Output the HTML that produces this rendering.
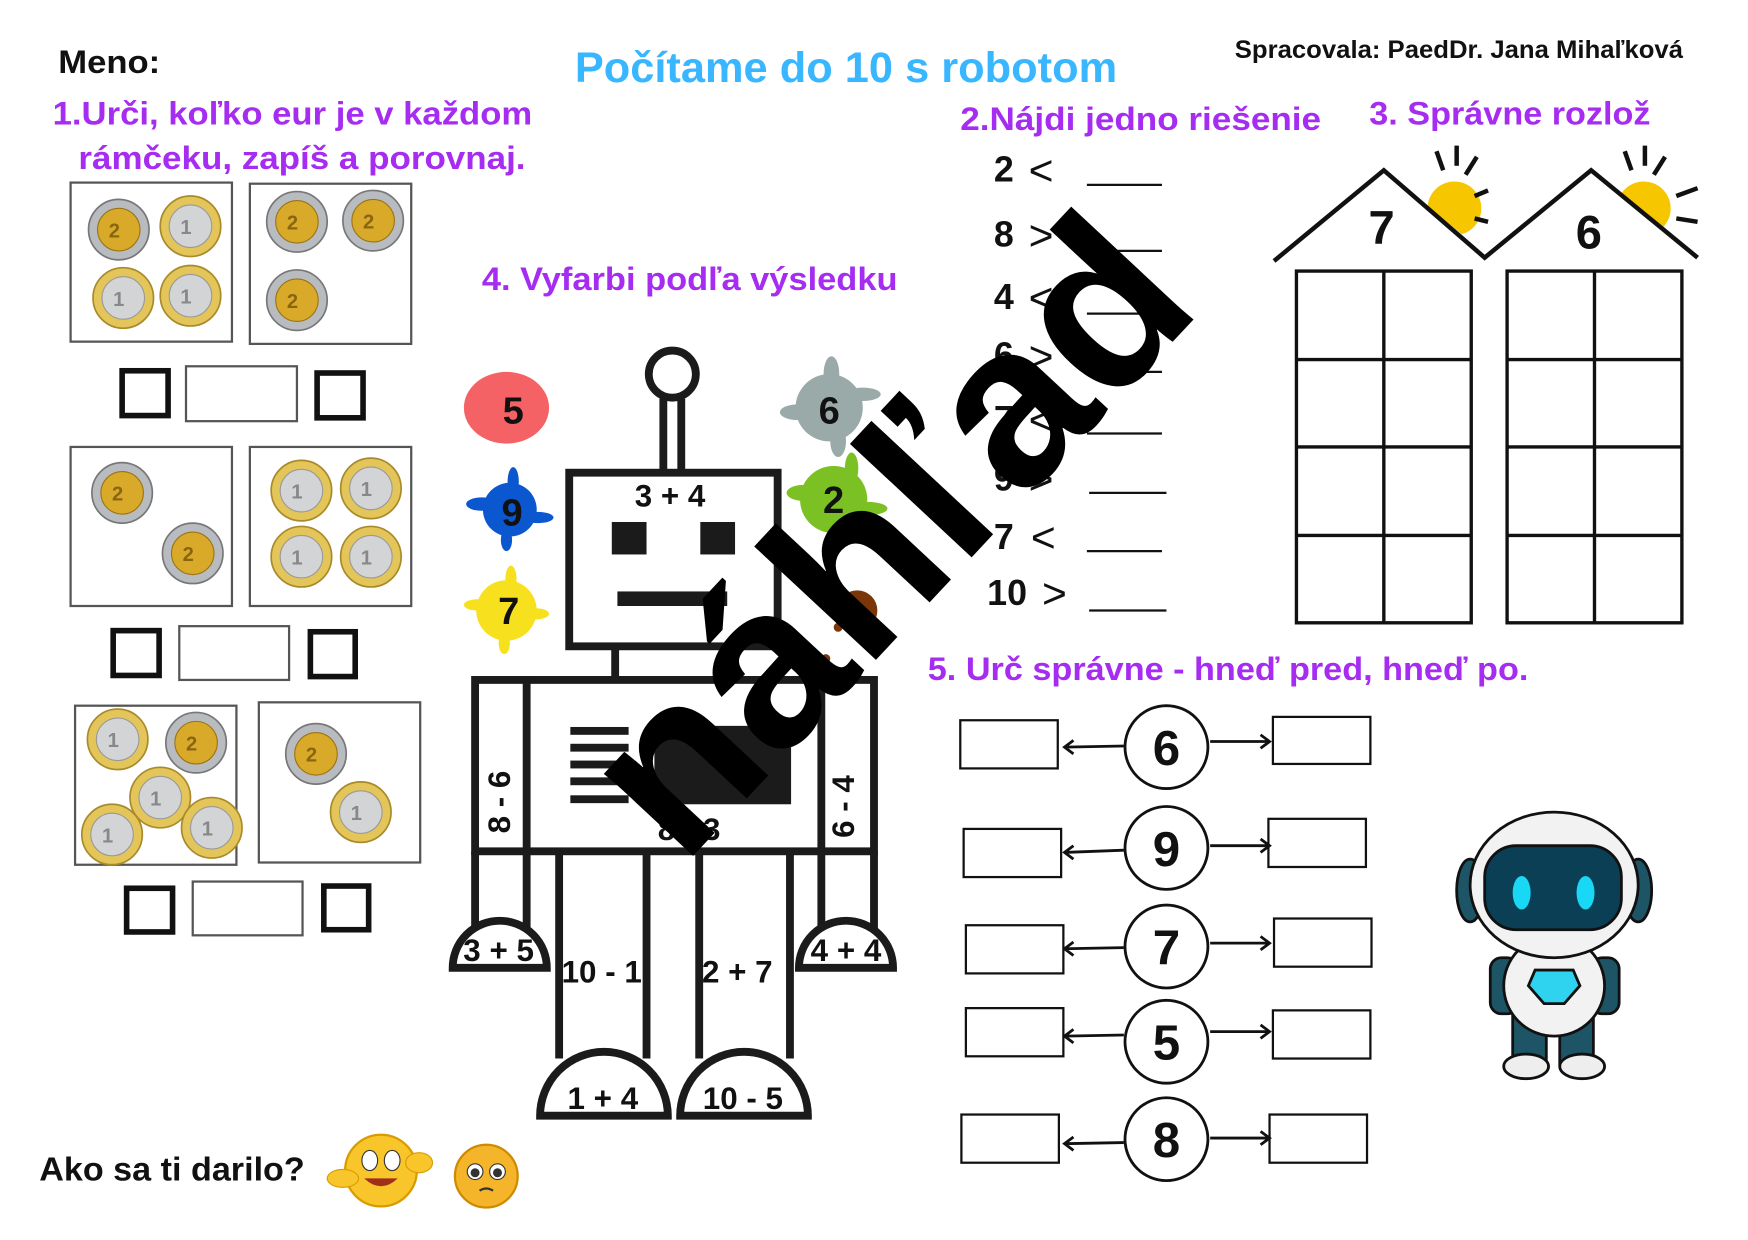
<!DOCTYPE html>
<html><head><meta charset="utf-8"><style>
html,body{margin:0;padding:0;background:#fff;}
svg{display:block;}
text{font-family:"Liberation Sans","DejaVu Sans",sans-serif;font-weight:bold;}
.thin{font-weight:normal;}
</style></head><body>
<svg width="1748" height="1240" viewBox="0 0 1560 1107" preserveAspectRatio="none" xmlns="http://www.w3.org/2000/svg">
<defs>
<g id="e2"><circle r="27" fill="#b8bcc0" stroke="#777" stroke-width="1.5"/><circle r="19" fill="#d9a92a" stroke="#9a7412" stroke-width="1"/><text x="-9" y="7" font-size="18" fill="#8a6510">2</text></g>
<g id="e1"><circle r="27" fill="#e3c55a" stroke="#a88a2a" stroke-width="1.5"/><circle r="19" fill="#d2d4d6" stroke="#999" stroke-width="1"/><text x="-9" y="7" font-size="18" fill="#888">1</text></g>
</defs>
<rect width="1560" height="1107" fill="#fff"/>

<!-- headers -->
<text x="52" y="65" font-size="29" fill="#111" textLength="91" lengthAdjust="spacingAndGlyphs">Meno:</text>
<text x="513" y="73" font-size="38" fill="#38b6ff" textLength="484" lengthAdjust="spacingAndGlyphs">Počítame do 10 s robotom</text>
<text x="1102" y="52" font-size="22" fill="#111" textLength="400" lengthAdjust="spacingAndGlyphs">Spracovala: PaedDr. Jana Mihaľková</text>
<g fill="#a52cf0" font-size="29">
<text x="47" y="111" textLength="428" lengthAdjust="spacingAndGlyphs">1.Urči, koľko eur je v každom</text>
<text x="70" y="151" textLength="399" lengthAdjust="spacingAndGlyphs">rámčeku, zapíš a porovnaj.</text>
<text x="857" y="116" textLength="322" lengthAdjust="spacingAndGlyphs">2.Nájdi jedno riešenie</text>
<text x="1222" y="111" textLength="251" lengthAdjust="spacingAndGlyphs">3. Správne rozlož</text>
<text x="430" y="259" textLength="371" lengthAdjust="spacingAndGlyphs">4. Vyfarbi podľa výsledku</text>
<text x="828" y="607" textLength="536" lengthAdjust="spacingAndGlyphs">5. Urč správne - hneď pred, hneď po.</text>
</g>
<text x="35" y="1054" font-size="30" fill="#111" textLength="237" lengthAdjust="spacingAndGlyphs">Ako sa ti darilo?</text>

<!-- coin boxes -->
<g fill="none" stroke="#555" stroke-width="2">
<rect x="63" y="163" width="144" height="142"/><rect x="223" y="164" width="144" height="143"/>
<rect x="63" y="399" width="144" height="142"/><rect x="223" y="399" width="144" height="142"/>
<rect x="67" y="630" width="144" height="142"/><rect x="231" y="627" width="144" height="143"/>
<rect x="166" y="327" width="99" height="49"/><rect x="160" y="559" width="98" height="48"/><rect x="172" y="787" width="98" height="48"/>
</g>
<g fill="none" stroke="#111" stroke-width="5">
<rect x="109" y="331" width="41" height="40"/><rect x="283" y="333" width="41" height="40"/>
<rect x="101" y="563" width="41" height="40"/><rect x="277" y="564" width="40" height="40"/>
<rect x="113" y="793" width="41" height="39"/><rect x="289" y="791" width="40" height="39"/>
</g>
<use href="#e2" x="106" y="205"/><use href="#e1" x="170" y="202"/><use href="#e1" x="110" y="266"/><use href="#e1" x="170" y="264"/>
<use href="#e2" x="265" y="198"/><use href="#e2" x="333" y="197"/><use href="#e2" x="265" y="268"/>
<use href="#e2" x="109" y="440"/><use href="#e2" x="172" y="494"/>
<use href="#e1" x="269" y="438"/><use href="#e1" x="331" y="436"/><use href="#e1" x="269" y="497"/><use href="#e1" x="331" y="497"/>
<use href="#e1" x="105" y="660"/><use href="#e2" x="175" y="663"/><use href="#e1" x="143" y="712"/><use href="#e1" x="100" y="745"/><use href="#e1" x="189" y="739"/>
<use href="#e2" x="282" y="673"/><use href="#e1" x="322" y="725"/>

<!-- section 2 -->
<g font-size="32" fill="#111">
<text x="887" y="162">2</text><text x="887" y="220">8</text><text x="887" y="276">4</text><text x="887" y="328">6</text>
<text x="887" y="385">7</text><text x="887" y="438">9</text><text x="887" y="490">7</text><text x="881" y="540">10</text>
</g>
<g font-size="38" fill="#111" class="thin">
<text x="918" y="165" class="thin">&lt;</text><text x="918" y="223" class="thin">&gt;</text><text x="918" y="279" class="thin">&lt;</text><text x="918" y="331" class="thin">&gt;</text>
<text x="918" y="388" class="thin">&lt;</text><text x="918" y="441" class="thin">&gt;</text><text x="920" y="493" class="thin">&lt;</text><text x="930" y="543" class="thin">&gt;</text>
</g>
<g stroke="#111" stroke-width="2">
<line x1="970" y1="165" x2="1037" y2="165"/><line x1="970" y1="224" x2="1037" y2="224"/><line x1="970" y1="280" x2="1037" y2="280"/><line x1="970" y1="332" x2="1037" y2="332"/>
<line x1="970" y1="387" x2="1037" y2="387"/><line x1="972" y1="440" x2="1041" y2="440"/><line x1="970" y1="492" x2="1037" y2="492"/><line x1="972" y1="545" x2="1041" y2="545"/>
</g>

<!-- houses -->
<g>
<circle cx="1298" cy="186" r="24" fill="#f6c700"/>
<circle cx="1467" cy="186" r="24" fill="#f6c700"/>
<g stroke="#111" stroke-width="4">
<line x1="1282" y1="135" x2="1288" y2="152"/><line x1="1300" y1="130" x2="1300" y2="148"/><line x1="1318" y1="140" x2="1308" y2="156"/><line x1="1328" y1="170" x2="1316" y2="175"/><line x1="1328" y1="198" x2="1316" y2="195"/>
<line x1="1450" y1="135" x2="1456" y2="152"/><line x1="1468" y1="130" x2="1468" y2="148"/><line x1="1486" y1="140" x2="1476" y2="156"/><line x1="1515" y1="168" x2="1496" y2="175"/><line x1="1515" y1="198" x2="1496" y2="195"/>
</g>
<polygon points="1235,152 1330,230 1330,260 1140,260 1140,233" fill="#fff"/>
<polygon points="1420,152 1515,230 1515,260 1325,260 1325,230" fill="#fff"/>
<polyline points="1137,233 1235,152 1325,230 1420,152 1515,230" fill="none" stroke="#111" stroke-width="4"/>
<text x="1233" y="218" font-size="42" fill="#111" text-anchor="middle">7</text>
<text x="1418" y="222" font-size="42" fill="#111" text-anchor="middle">6</text>
<g fill="none" stroke="#111" stroke-width="3">
<rect x="1157" y="242" width="156" height="314"/><line x1="1235" y1="242" x2="1235" y2="556"/>
<line x1="1157" y1="321" x2="1313" y2="321"/><line x1="1157" y1="399" x2="1313" y2="399"/><line x1="1157" y1="478" x2="1313" y2="478"/>
<rect x="1345" y="242" width="156" height="314"/><line x1="1423" y1="242" x2="1423" y2="556"/>
<line x1="1345" y1="321" x2="1501" y2="321"/><line x1="1345" y1="399" x2="1501" y2="399"/><line x1="1345" y1="478" x2="1501" y2="478"/>
</g>
</g>

<!-- splats -->
<ellipse cx="452" cy="364" rx="38" ry="32" fill="#f2474a" opacity="0.85"/>
<g fill="#9aaaa9"><circle cx="740" cy="364" r="30"/><ellipse cx="742" cy="334" rx="7" ry="16"/><ellipse cx="712" cy="368" rx="16" ry="7"/><ellipse cx="770" cy="352" rx="16" ry="6"/><ellipse cx="748" cy="394" rx="7" ry="14"/></g>
<g fill="#0b57d0"><circle cx="455" cy="455" r="24"/><ellipse cx="430" cy="450" rx="14" ry="6"/><ellipse cx="480" cy="462" rx="14" ry="5"/><ellipse cx="458" cy="430" rx="5" ry="13"/><ellipse cx="452" cy="482" rx="5" ry="10"/></g>
<g fill="#7bc124"><circle cx="744" cy="446" r="30"/><ellipse cx="716" cy="440" rx="14" ry="7"/><ellipse cx="774" cy="454" rx="18" ry="6"/><ellipse cx="760" cy="418" rx="6" ry="14"/></g>
<g fill="#f7e01e"><circle cx="452" cy="545" r="27"/><ellipse cx="426" cy="540" rx="12" ry="5"/><ellipse cx="478" cy="548" rx="12" ry="5"/><ellipse cx="456" cy="517" rx="5" ry="12"/><ellipse cx="450" cy="574" rx="5" ry="10"/></g>
<g fill="#7a3608"><circle cx="765" cy="545" r="18"/><circle cx="748" cy="560" r="4"/><circle cx="785" cy="560" r="4"/><circle cx="737" cy="588" r="4"/></g>
<g font-size="34" fill="#111" text-anchor="middle">
<text x="458" y="378">5</text><text x="740" y="378">6</text><text x="457" y="469">9</text><text x="744" y="458">2</text><text x="454" y="557">7</text>
</g>

<!-- robot -->
<g fill="none" stroke="#1b1b1b" stroke-width="7">
<circle cx="600" cy="334" r="21"/>
<line x1="592" y1="356" x2="592" y2="420"/><line x1="608" y1="356" x2="608" y2="420"/>
<rect x="508" y="422" width="186" height="155"/>
<line x1="549" y1="578" x2="549" y2="607"/><line x1="651" y1="578" x2="651" y2="607"/>
<rect x="424" y="607" width="356" height="153"/>
<line x1="470" y1="607" x2="470" y2="760"/><line x1="733" y1="607" x2="733" y2="760"/>
<polyline points="424,760 424,830"/><polyline points="470,760 470,830"/>
<polyline points="733,760 733,830"/><polyline points="780,760 780,830"/>
<polyline points="499,760 499,945"/><polyline points="577,760 577,945"/>
<polyline points="624,760 624,945"/><polyline points="705,760 705,945"/>
<path d="M404 864 A42 42 0 0 1 488 864 Z"/>
<path d="M713 864 A42 42 0 0 1 797 864 Z"/>
<path d="M482 996 A57 57 0 0 1 596 996 Z"/>
<path d="M607 996 A57 57 0 0 1 721 996 Z"/>
</g>
<g fill="#1b1b1b">
<rect x="546" y="466" width="31" height="29"/><rect x="625" y="466" width="31" height="29"/>
<rect x="551" y="528" width="98" height="13"/>
<rect x="509" y="649" width="52" height="7"/><rect x="509" y="664" width="52" height="7"/><rect x="509" y="679" width="52" height="7"/><rect x="509" y="694" width="52" height="7"/><rect x="509" y="710" width="52" height="7"/>
<rect x="584" y="648" width="122" height="70"/>
</g>
<g font-size="28" fill="#111" text-anchor="middle">
<text x="598" y="452">3 + 4</text>
<text x="615" y="750">8 - 3</text>
<text x="445" y="858">3 + 5</text><text x="755" y="858">4 + 4</text>
<text x="537" y="877">10 - 1</text><text x="658" y="877">2 + 7</text>
<text x="538" y="990">1 + 4</text><text x="663" y="990">10 - 5</text>
<text transform="translate(455,716) rotate(-90)">8 - 6</text>
<text transform="translate(762,720) rotate(-90)">6 - 4</text>
</g>

<!-- section 5 -->
<g fill="none" stroke="#111" stroke-width="2">
<rect x="857" y="643" width="87" height="43"/><rect x="1136" y="640" width="87" height="42"/>
<rect x="860" y="740" width="87" height="43"/><rect x="1132" y="731" width="87" height="43"/>
<rect x="862" y="826" width="87" height="43"/><rect x="1137" y="820" width="87" height="43"/>
<rect x="862" y="900" width="87" height="43"/><rect x="1136" y="902" width="87" height="43"/>
<rect x="858" y="995" width="87" height="43"/><rect x="1133" y="995" width="87" height="43"/>
</g>
<g fill="#fff" stroke="#111" stroke-width="2.5">
<circle cx="1041" cy="667" r="37"/><circle cx="1041" cy="757" r="37"/><circle cx="1041" cy="845" r="37"/><circle cx="1041" cy="930" r="37"/><circle cx="1041" cy="1017" r="37"/>
</g>
<g stroke="#111" stroke-width="2.5" fill="none">
<path d="M1003 666 L950 667 M958 661 L950 667 L958 673"/><path d="M1080 662 L1133 662 M1125 656 L1133 662 L1125 668"/>
<path d="M1003 759 L950 761 M958 755 L950 761 L958 767"/><path d="M1080 755 L1133 755 M1125 749 L1133 755 L1125 761"/>
<path d="M1003 846 L950 847 M958 841 L950 847 L958 853"/><path d="M1080 842 L1133 842 M1125 836 L1133 842 L1125 848"/>
<path d="M1003 924 L950 925 M958 919 L950 925 L958 931"/><path d="M1080 921 L1133 921 M1125 915 L1133 921 L1125 927"/>
<path d="M1003 1020 L950 1021 M958 1015 L950 1021 L958 1027"/><path d="M1080 1016 L1133 1016 M1125 1010 L1133 1016 L1125 1022"/>
</g>
<g font-size="44" fill="#111" text-anchor="middle">
<text x="1041" y="683">6</text><text x="1041" y="773">9</text><text x="1041" y="861">7</text><text x="1041" y="946">5</text><text x="1041" y="1033">8</text>
</g>

<!-- astronaut -->
<g stroke="#111" stroke-width="2.5">
<rect x="1350" y="905" width="30" height="45" fill="#1d5566"/><rect x="1392" y="905" width="30" height="45" fill="#1d5566"/>
<ellipse cx="1362" cy="952" rx="20" ry="11" fill="#eee"/><ellipse cx="1412" cy="952" rx="20" ry="11" fill="#eee"/>
<rect x="1330" y="855" width="25" height="50" rx="10" fill="#1d5566"/><rect x="1420" y="855" width="25" height="50" rx="10" fill="#1d5566"/>
<ellipse cx="1387" cy="880" rx="45" ry="45" fill="#f2f2f2"/>
<path d="M1370 866 h34 l6 14 l-14 16 h-18 l-14 -16 Z" fill="#2fd3f0"/>
<ellipse cx="1312" cy="795" rx="12" ry="28" fill="#1d5566"/><ellipse cx="1462" cy="795" rx="12" ry="28" fill="#1d5566"/>
<ellipse cx="1387" cy="790" rx="75" ry="65" fill="#f2f2f2"/>
<rect x="1325" y="755" width="122" height="75" rx="28" fill="#0a3f55"/>
</g>
<ellipse cx="1358" cy="797" rx="8" ry="15" fill="#18d8f5"/><ellipse cx="1415" cy="797" rx="8" ry="15" fill="#18d8f5"/>

<!-- emojis -->
<circle cx="340" cy="1045" r="32" fill="#f8c52a" stroke="#d99b00" stroke-width="2"/>
<ellipse cx="330" cy="1036" rx="7" ry="9" fill="#fff" stroke="#333"/><ellipse cx="350" cy="1036" rx="7" ry="9" fill="#fff" stroke="#333"/>
<path d="M325 1052 q15 14 30 0" fill="#a0301a"/>
<ellipse cx="306" cy="1052" rx="14" ry="8" fill="#f8c52a" stroke="#d99b00"/><ellipse cx="374" cy="1038" rx="12" ry="9" fill="#f8c52a" stroke="#d99b00"/>
<circle cx="434" cy="1050" r="28" fill="#f5b52a" stroke="#d08a00" stroke-width="2"/>
<circle cx="424" cy="1046" r="7" fill="#fff" stroke="#333"/><circle cx="444" cy="1046" r="7" fill="#fff" stroke="#333"/>
<circle cx="424" cy="1047" r="4" fill="#333"/><circle cx="444" cy="1047" r="4" fill="#333"/>
<path d="M428 1063 q6 -4 12 0" stroke="#333" fill="none" stroke-width="2"/>

<!-- watermark -->
<text transform="translate(802,488) rotate(-47)" font-size="205" fill="#000" text-anchor="middle" dominant-baseline="middle">náhľad</text>
</svg>
</body></html>
